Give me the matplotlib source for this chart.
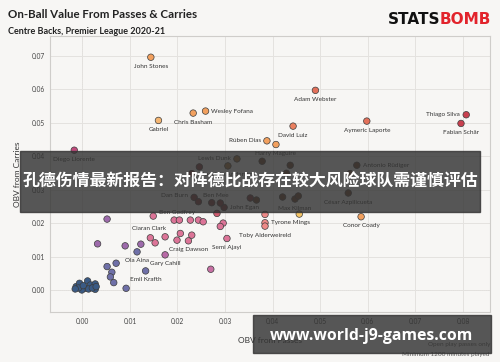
import matplotlib
matplotlib.use("Agg")
import matplotlib.pyplot as plt
from matplotlib.patches import Rectangle

# --------------------------
# data
# --------------------------
players = [
    "John Stones", "Wesley Fofana", "Chris Basham", "Gabriel", "Adam Webster",
    "Thiago Silva", "Fabian Schär", "Aymeric Laporte", "David Luiz", "Rúben Dias",
    "Harry Maguire", "Diego Llorente", "Lewis Dunk", "Joachim Andersen", "Antonio Rüdiger",
    "César Azpilicueta", "Max Kilman", "Conor Coady", "Tyrone Mings", "Toby Alderweireld",
    "Semi Ajayi", "John Egan", "Ben Mee", "Dan Burn", "Ben Godfrey",
    "Ciaran Clark", "Craig Dawson", "Gary Cahill", "Ola Aina", "Emil Krafth",
    # unlabelled players
    "", "", "", "", "", "", "", "", "", "", "", "", "", "", "", "", "", "", "", "",
    "", "", "", "", "", "", "", "", "", "", "", "", "", "", "", "", "", "", "", "",
    "", "", "", "", "",
]
obv_passes = [
    0.0144, 0.0259, 0.0233, 0.0160, 0.0490,
    0.0807, 0.0796, 0.0598, 0.0443, 0.0388,
    0.0407, -0.0017, 0.0325, 0.0306, 0.0577,
    0.0559, 0.0447, 0.0586, 0.0384, 0.0384,
    0.0304, 0.0298, 0.0272, 0.0235, 0.0149,
    0.0143, 0.0223, 0.0174, 0.0115, 0.0133,
    0.0246, 0.0230, 0.0429, 0.0437, 0.0378, 0.0563, 0.0421, 0.0454, 0.0366, 0.0353,
    0.0244, 0.0290, 0.0283, 0.0456, 0.0384, 0.0052, 0.0193, 0.0204, 0.0227, 0.0244,
    0.0254, 0.0296, 0.0290, 0.0153, 0.0174, 0.0206, 0.0230, 0.0199, 0.0123, 0.0090,
    0.0032, 0.0270, 0.0071, 0.0052, 0.0062, 0.0059, 0.0066, 0.0092,
    -0.0013, -0.0006, 0.0011, 0.0017, 0.0027, 0.0027, 0.0006, -0.0001, -0.0008, 0.0013,
    0.0021, 0.0002, -0.0015, 0.0029,
]
obv_carries = [
    0.0696, 0.0535, 0.0529, 0.0507, 0.0597,
    0.0524, 0.0498, 0.0505, 0.0490, 0.0446,
    0.0435, 0.0418, 0.0392, 0.0371, 0.0373,
    0.0290, 0.0272, 0.0219, 0.0201, 0.0191,
    0.0154, 0.0247, 0.0261, 0.0277, 0.0221,
    0.0156, 0.0147, 0.0105, 0.0114, 0.0057,
    0.0368, 0.0348, 0.0349, 0.0373, 0.0385, 0.0348, 0.0278, 0.0281, 0.0269, 0.0275,
    0.0264, 0.0260, 0.0229, 0.0227, 0.0226, 0.0212, 0.0209, 0.0209, 0.0209, 0.0209,
    0.0204, 0.0200, 0.0190, 0.0141, 0.0159, 0.0169, 0.0164, 0.0149, 0.0137, 0.0132,
    0.0138, 0.0062, 0.0080, 0.0070, 0.0053, 0.0039, 0.0022, 0.0005,
    0.0010, 0.0020, 0.0027, 0.0015, 0.0018, 0.0002, 0.0005, 0.0000, 0.0006, 0.0003,
    0.0006, 0.0013, 0.0003, 0.0010,
]

# colours per player (same order)
ORANGE, LORANGE, REDOR, CRIMSON = "#f2a05e", "#f5b672", "#e3705a", "#c8404f"
BROWNOR, BROWN, DRED = "#9c6a34", "#6e4028", "#7c3438"
PINK, SALMON, PURP, SLATE, BLUE = "#dc7497", "#ee8a88", "#9d6aab", "#6f70a8", "#3a5a84"
point_colors = [
    ORANGE, ORANGE, ORANGE, LORANGE, REDOR,
    CRIMSON, CRIMSON, REDOR, "#ea8060", ORANGE,
    ORANGE, "#c04a7c", BROWNOR, BROWNOR, BROWN,
    BROWN, BROWN, ORANGE, SALMON, SALMON,
    PINK, DRED, DRED, DRED, PINK,
    PINK, PINK, "#b86aa6", SLATE, SLATE,
    DRED, DRED, BROWN, BROWN, BROWN, BROWN, BROWN, BROWN, BROWN, DRED,
    DRED, DRED, "#d25c70", "#f5c566", SALMON, PURP, PINK, PINK, PINK, PINK,
    PINK, PINK, PINK, PINK, PINK, PINK, PINK, PINK, PURP, PURP,
    PURP, "#c870a4", SLATE, SLATE, SLATE, SLATE, SLATE, SLATE,
    BLUE, BLUE, BLUE, BLUE, BLUE, BLUE, BLUE, BLUE, BLUE, BLUE,
    BLUE, BLUE, BLUE, BLUE,
]

x_ticks = [0.00, 0.01, 0.02, 0.03, 0.04, 0.05, 0.06, 0.07, 0.08]
y_ticks = [0.00, 0.01, 0.02, 0.03, 0.04, 0.05, 0.06, 0.07]

# label placement: (dx, dy) in points, horizontal alignment
BELOW = (0, -6.5, "center")
label_pos = {
    "Wesley Fofana": (4, 0, "left"), "Thiago Silva": (-4.5, 0, "right"),
    "Rúben Dias": (-4.5, 0, "right"), "Lewis Dunk": (-4.5, 0, "right"),
    "Antonio Rüdiger": (4.5, 0, "left"), "Tyrone Mings": (4.5, 0, "left"),
    "John Egan": (4.5, 0, "left"), "Ben Mee": (3, 5.5, "center"),
    "Dan Burn": (-4.5, 1, "right"), "Ben Godfrey": (4.5, 2.5, "left"),
    "Ciaran Clark": (-1, 6.5, "center"), "Ola Aina": (0, -6, "center"),
}

BG = "#f7f6f4"
plt.rcParams["font.family"] = ["Lato", "DejaVu Sans"]

fig = plt.figure(figsize=(5, 3.62), dpi=100, facecolor=BG)
ax = fig.add_axes([0.1, 0.138, 0.88, 0.763])
ax.set_facecolor(BG)

ax.axvline(0, color="#9a9a9a", lw=0.7, ls=(0, (1, 1)), zorder=1)
ax.axhline(0, color="#9a9a9a", lw=0.7, ls=(0, (1, 1)), zorder=1)

ax.scatter(obv_passes, obv_carries, s=22, c=point_colors, edgecolors="#3c3c3c",
           linewidths=0.5, zorder=3)

for name, px, py in zip(players, obv_passes, obv_carries):
    if not name:
        continue
    dx, dy, ha = label_pos.get(name, BELOW)
    ax.annotate(name, (px, py), xytext=(dx, dy), textcoords="offset points",
                ha=ha, va="center", fontsize=4.6, color="#333333", zorder=4)

ax.set_xlim(-0.0068, 0.0857)
ax.set_ylim(-0.0066, 0.0760)
ax.set_xticks(x_ticks)
ax.set_yticks(y_ticks)
ax.set_xticklabels([f"{v:.2f}" for v in x_ticks])
ax.set_yticklabels([f"{v:.2f}" for v in y_ticks])
ax.tick_params(axis="x", length=0, labelsize=4.8, colors="#444444", pad=4)
ax.tick_params(axis="y", length=0, labelsize=4.8, colors="#444444", pad=3.5)
ax.grid(color="#e4e2df", lw=0.7, zorder=0)
for sp in ax.spines.values():
    sp.set_color("#cfcdca")
    sp.set_linewidth(0.8)

ax.set_ylabel("OBV from Carries", fontsize=6, color="#333333", labelpad=8)
ax.set_xlabel("OBV from Passes", fontsize=6, color="#333333", labelpad=9)

# titles
fig.text(0.016, 0.975, "On-Ball Value From Passes & Carries", fontsize=8.3,
         fontweight="bold", color="#222222", va="top")
fig.text(0.016, 0.925, "Centre Backs, Premier League 2020-21", fontsize=6.5,
         fontweight="bold", color="#222222", va="top")
fig.text(0.88, 0.968, "STATS", fontsize=11, fontweight="heavy", color="#111111",
         va="top", ha="right", family="DejaVu Sans")
fig.text(0.88, 0.968, "BOMB", fontsize=11, fontweight="heavy", color="#e2232b",
         va="top", ha="left", family="DejaVu Sans")

fig.text(0.98, 0.049, "Open play passes only", fontsize=4.6, color="#555555",
         ha="right", va="center")
fig.text(0.98, 0.022, "Minimum 1200 minutes played", fontsize=4.6, color="#555555",
         ha="right", va="center")

# overlay banners
fig.patches.append(Rectangle((0.04, 1 - 211.7 / 362), 0.92, 60.7 / 362,
                             transform=fig.transFigure, color="#333333",
                             alpha=0.82, zorder=10))
fig.text(0.5, 1 - 182 / 362, "孔德伤情最新报告：对阵德比战存在较大风险球队需谨慎评估",
         fontsize=12.2, fontweight="bold", color="white", ha="center", va="center",
         family=["Noto Sans CJK SC", "DejaVu Sans"], zorder=11)

fig.patches.append(Rectangle((253 / 500, 1 - 352.7 / 362), 237.7 / 500, 37.7 / 362,
                             transform=fig.transFigure, color="#333333",
                             alpha=0.82, zorder=10))
fig.text(371 / 500, 1 - 336 / 362, "www.world-j9-games.com", fontsize=11.3,
         fontweight="bold", color="white", ha="center", va="center",
         family=["Open Sans", "DejaVu Sans"], zorder=11)

fig.savefig("out.png", dpi=100, facecolor=BG)
